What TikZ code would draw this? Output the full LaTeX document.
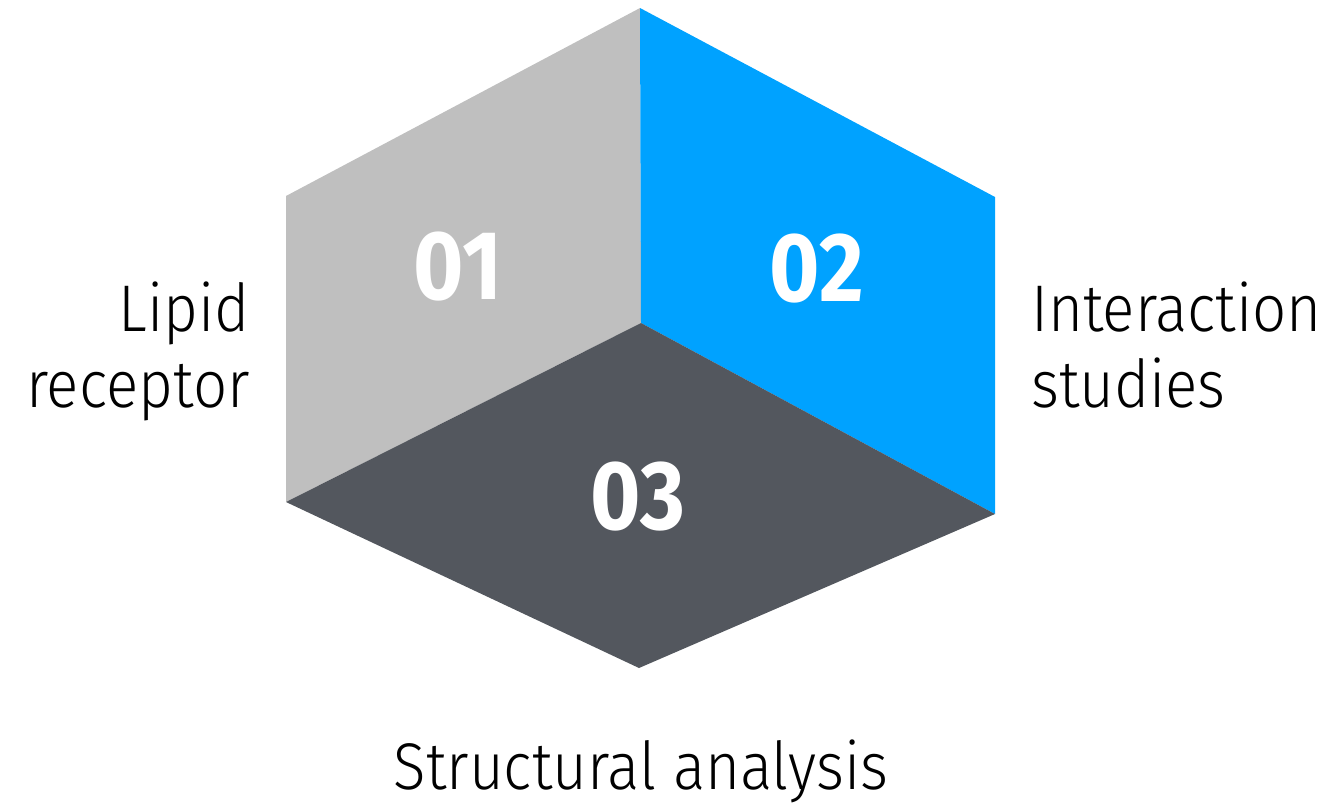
\documentclass[tikz,border=0pt]{standalone}
\usepackage{fontspec}
\usepackage{graphicx}
\setmainfont{Fira Sans}
\newfontfamily\lightfont[FakeStretch=0.91]{Fira Sans Light}
\definecolor{facegray}{HTML}{BFBFBF}
\definecolor{faceblue}{HTML}{00A2FF}
\definecolor{facedark}{HTML}{53575E}
\begin{document}
\begin{tikzpicture}[x=1pt,y=-1pt,
  num/.style={text=white,font=\fontsize{98}{98}\selectfont\bfseries,inner sep=0pt},
  lab/.style={font=\lightfont\fontsize{66}{76}\selectfont,inner sep=0pt}]
\useasboundingbox (0,0) rectangle (1320,807);
\coordinate (T) at (640,8);
\coordinate (UL) at (286,196);
\coordinate (UR) at (995,197);
\coordinate (C) at (641,323);
\coordinate (LL) at (286,502);
\coordinate (LR) at (995,514);
\coordinate (B) at (639,668);
\fill[facegray] (T) -- (UL) -- (LL) -- (C) -- cycle;
\fill[faceblue] (T) -- (UR) -- (LR) -- (C) -- cycle;
\fill[facedark] (C) -- (LL) -- (B) -- (LR) -- cycle;
\node[num] (n1) at (458,267) {\scalebox{0.88}[1]{01}};
\node[num] (n2) at (817,269) {\scalebox{0.88}[1]{02}};
\node[num] (n3) at (638,497) {\scalebox{0.88}[1]{03}};
\node[lab,anchor=base east,align=right] (l1) at (250,407) {Lipid\\receptor};
\node[lab,anchor=base west,align=left] (l2) at (1031,407) {Interaction\\studies};
\node[lab,anchor=base] (l3) at (641,789) {Structural analysis};
\end{tikzpicture}
\end{document}
